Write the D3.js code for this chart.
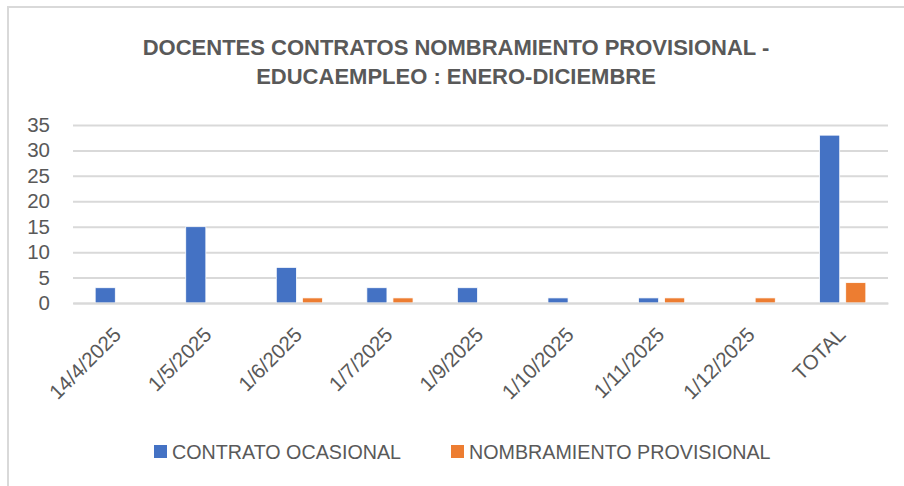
<!DOCTYPE html>
<html>
<head>
<meta charset="utf-8">
<script src="https://cdn.jsdelivr.net/npm/d3@7"></script>
<style>
  body { margin: 0; background: #fff; }
  svg { display: block; font-family: "Liberation Sans", Arial, sans-serif; }
</style>
</head>
<body>
<div id="chart"></div>
<script>
// chart values
var categories = ["14/4/2025", "1/5/2025", "1/6/2025", "1/7/2025", "1/9/2025", "1/10/2025", "1/11/2025", "1/12/2025", "TOTAL"];
var series = ["CONTRATO OCASIONAL", "NOMBRAMIENTO PROVISIONAL"];
var contratoOcasional = [3, 15, 7, 3, 3, 1, 1, 0, 33];
var nombramientoProvisional = [0, 0, 1, 1, 0, 0, 1, 1, 4];
var yTicks = [0, 5, 10, 15, 20, 25, 30, 35];
var titleLines = ["DOCENTES CONTRATOS NOMBRAMIENTO PROVISIONAL -", "EDUCAEMPLEO : ENERO-DICIEMBRE"];

var colors = ["#4472C4", "#ED7D31"];
var textColor = "#595959";

var W = 904, H = 486;
var margin = {top: 125, right: 16, bottom: 183, left: 73};
var width = W - margin.left - margin.right;
var height = H - margin.top - margin.bottom;

var data = categories.map(function(c, i) {
    return {cat: c, values: [contratoOcasional[i], nombramientoProvisional[i]]};
});

var svg = d3.select("#chart")
    .append("svg")
    .attr("width", W)
    .attr("height", H);

// outer frame
svg.append("rect")
    .attr("x", 8)
    .attr("y", 7)
    .attr("width", W + 10)
    .attr("height", H + 10)
    .attr("fill", "none")
    .attr("stroke", "#d9d9d9")
    .attr("stroke-width", 2);

// title
svg.append("g").selectAll("text")
    .data(titleLines)
    .enter()
    .append("text")
    .attr("x", 456)
    .attr("y", function(d, i) { return 55 + i * 29; })
    .attr("text-anchor", "middle")
    .attr("fill", textColor)
    .attr("font-size", 22)
    .attr("font-weight", "bold")
    .text(function(d) { return d; });

var g = svg.append("g")
    .attr("transform", "translate(" + margin.left + "," + margin.top + ")");

var x0 = d3.scaleBand()
    .domain(categories)
    .range([0, width])
    .paddingInner(0.49)
    .paddingOuter(0.245);

var x1 = d3.scaleBand()
    .domain(d3.range(series.length))
    .range([0, x0.bandwidth()])
    .paddingInner(0.23);

var y = d3.scaleLinear()
    .domain([0, 35])
    .range([height, 0]);

// gridlines
var yAxis = g.append("g")
    .call(d3.axisLeft(y).tickValues(yTicks).tickSize(-width).tickPadding(23));
yAxis.select(".domain").remove();
yAxis.selectAll(".tick line")
    .attr("stroke", "#d9d9d9")
    .attr("stroke-width", 2);
yAxis.selectAll(".tick text")
    .attr("fill", textColor)
    .attr("font-size", 20.5)
    .style("font-family", "inherit");

// bars
g.append("g").selectAll("g")
    .data(data)
    .enter()
    .append("g")
    .attr("transform", function(d) { return "translate(" + x0(d.cat) + ",0)"; })
    .selectAll("rect")
    .data(function(d) { return d.values.map(function(v, i) { return {i: i, v: v}; }); })
    .enter()
    .append("rect")
    .filter(function(d) { return d.v > 0; })
    .attr("x", function(d) { return x1(d.i); })
    .attr("y", function(d) { return y(d.v); })
    .attr("width", x1.bandwidth())
    .attr("height", function(d) { return height - y(d.v); })
    .attr("fill", function(d) { return colors[d.i]; })
    .attr("stroke", "#fff")
    .attr("stroke-width", 0.75);

// x axis
var xAxis = g.append("g")
    .attr("transform", "translate(0," + height + ")")
    .call(d3.axisBottom(d3.scaleBand().domain(categories).range([0, width])).tickSize(0));
xAxis.select(".domain")
    .attr("stroke", "#d9d9d9")
    .attr("stroke-width", 2);
xAxis.selectAll(".tick text")
    .attr("fill", textColor)
    .attr("font-size", 20.5)
    .style("font-family", "inherit")
    .attr("text-anchor", "end")
    .attr("y", 0)
    .attr("dy", 0)
    .attr("transform", "translate(4,33) rotate(-45)");

// legend
var legend = svg.append("g")
    .attr("transform", "translate(0,452)");
var legendX = [154, 451];
series.forEach(function(s, i) {
    legend.append("rect")
        .attr("x", legendX[i])
        .attr("y", -7)
        .attr("width", 13)
        .attr("height", 13)
        .attr("fill", colors[i]);
    legend.append("text")
        .attr("x", legendX[i] + 18)
        .attr("y", 0)
        .attr("dy", "0.35em")
        .attr("fill", textColor)
        .attr("font-size", 19.7)
        .text(s);
});
</script>
</body>
</html>
